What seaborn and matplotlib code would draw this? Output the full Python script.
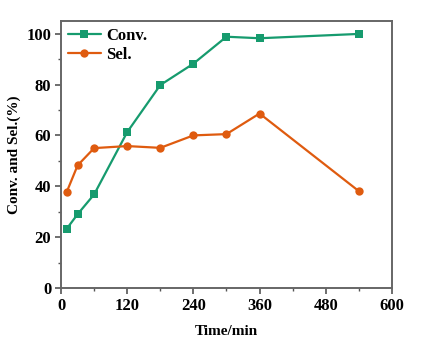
import matplotlib
matplotlib.use("Agg")
import matplotlib.pyplot as plt
import seaborn as sns
import pandas as pd
from matplotlib.ticker import MultipleLocator

time_min = [10, 30, 60, 120, 180, 240, 300, 360, 540]
conv = [23.2, 29.0, 36.8, 61.3, 79.8, 88.2, 98.8, 98.2, 99.9]
sel = [37.6, 48.2, 55.0, 55.8, 55.1, 60.0, 60.5, 68.6, 38.1]

sns.set_theme(style="ticks")
plt.rcParams['font.family'] = ['Liberation Serif', 'DejaVu Serif']
plt.rcParams['font.weight'] = 'bold'
plt.rcParams['text.color'] = 'black'
plt.rcParams['axes.labelcolor'] = 'black'
plt.rcParams['xtick.labelcolor'] = 'black'
plt.rcParams['ytick.labelcolor'] = 'black'

df = pd.DataFrame({"Time": time_min * 2,
                   "Value": conv + sel,
                   "Series": ["Conv."] * len(time_min) + ["Sel."] * len(time_min)})

fig = plt.figure(figsize=(4.33, 3.38), dpi=100)
ax = fig.add_axes([0.141, 0.148, 0.764, 0.79])

green = "#169b6e"
orange = "#df5b0f"
sns.lineplot(data=df, x="Time", y="Value", hue="Series", style="Series",
             markers={"Conv.": "s", "Sel.": "o"}, dashes=False,
             palette={"Conv.": green, "Sel.": orange},
             markersize=6, markeredgewidth=0, linewidth=1.6, ax=ax)

ax.set_xlim(0, 600)
ax.set_ylim(0, 105)
ax.xaxis.set_major_locator(MultipleLocator(120))
ax.xaxis.set_minor_locator(MultipleLocator(60))
ax.yaxis.set_major_locator(MultipleLocator(20))
ax.yaxis.set_minor_locator(MultipleLocator(10))
ax.tick_params(which='major', direction='out', length=4, width=1.2, color='#555555',
               labelsize=12, pad=3)
ax.tick_params(which='minor', direction='out', length=2.5, width=1.0, color='#555555')
for lab in ax.get_xticklabels() + ax.get_yticklabels():
    lab.set_fontweight('bold')
for s in ax.spines.values():
    s.set_color('#666666')
    s.set_linewidth(1.4)

ax.set_xlabel("Time/min", fontsize=11, fontweight='bold', labelpad=8)
ax.set_ylabel("Conv. and Sel.(%)", fontsize=11, fontweight='bold', labelpad=4)

leg = ax.legend(loc='upper left', frameon=False, fontsize=12, handlelength=2.0,
                borderaxespad=0.0, borderpad=0.4, handletextpad=0.3, labelspacing=0.2)
for t in leg.get_texts():
    t.set_fontweight('bold')

fig.savefig("out.png", dpi=100)
